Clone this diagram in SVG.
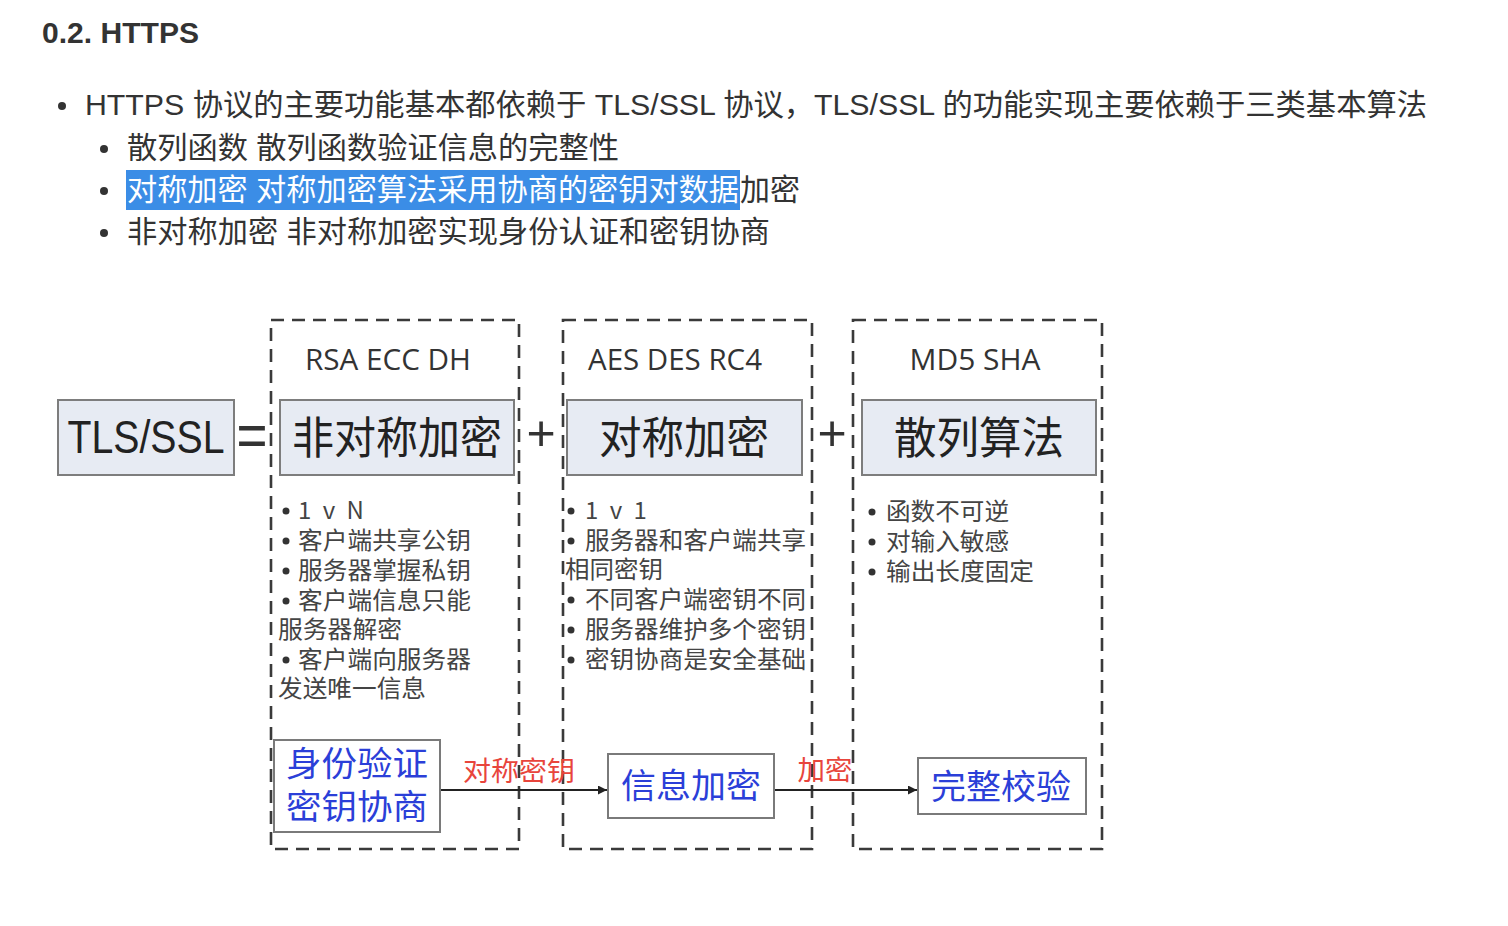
<svg xmlns="http://www.w3.org/2000/svg" width="1508" height="926" viewBox="0 0 1508 926">
<defs>
<style>
.cn{font-family:"Liberation Sans","Noto Sans CJK SC",sans-serif;}
.doc{font-size:30px;fill:#333;}
.dash{fill:none;stroke:#3a3a3a;stroke-width:2.6;stroke-dasharray:13 8;}
.algo{fill:#e7ebf3;stroke:#7d7d7d;stroke-width:2;}
.big{font-family:"Noto Sans CJK SC",sans-serif;font-size:44px;fill:#222;}
.hdr{font-family:"Open Sans","Noto Sans CJK SC",sans-serif;font-size:30px;fill:#333;}
.li{font-family:"Noto Sans CJK SC",sans-serif;font-size:24px;fill:#444;}
.wbox{fill:#fff;stroke:#7a7a7a;stroke-width:2;}
.blue{font-family:"Noto Sans CJK SC",sans-serif;font-size:34px;fill:#2b3fd8;}
.red{font-family:"Noto Sans CJK SC",sans-serif;font-size:27px;fill:#e8453c;}
.conn{stroke:#222;stroke-width:2.2;fill:none;}
.op{font-family:"Liberation Sans",sans-serif;fill:#333;}
</style>
<marker id="ah" viewBox="0 0 10 10" refX="10" refY="5" markerWidth="11" markerHeight="9" markerUnits="userSpaceOnUse" orient="auto">
<path d="M0,0 L10,5 L0,10 z" fill="#222"/>
</marker>
</defs>
<rect width="1508" height="926" fill="#fff"/>

<g id="doc-text">
<text class="cn" x="42" y="43" font-size="29" font-weight="bold" fill="#333" textLength="157" lengthAdjust="spacingAndGlyphs">0.2. HTTPS</text>
<circle cx="62" cy="106" r="4" fill="#333"/>
<text class="cn doc" x="85" y="115" textLength="1342" lengthAdjust="spacingAndGlyphs">HTTPS 协议的主要功能基本都依赖于 TLS/SSL 协议，TLS/SSL 的功能实现主要依赖于三类基本算法</text>
<circle cx="104" cy="149" r="4" fill="#333"/>
<text class="cn doc" x="127" y="158" textLength="492" lengthAdjust="spacingAndGlyphs">散列函数 散列函数验证信息的完整性</text>
<circle cx="104" cy="191" r="4" fill="#333"/>
<rect x="126" y="170" width="614" height="40" fill="#3b8de6"/>
<text class="cn doc" x="127" y="200" style="fill:#fff" textLength="612" lengthAdjust="spacingAndGlyphs">对称加密 对称加密算法采用协商的密钥对数据</text>
<text class="cn doc" x="740" y="200" textLength="60" lengthAdjust="spacingAndGlyphs">加密</text>
<circle cx="104" cy="233" r="4" fill="#333"/>
<text class="cn doc" x="127" y="242" textLength="643" lengthAdjust="spacingAndGlyphs">非对称加密 非对称加密实现身份认证和密钥协商</text>
</g>

<g id="group-asym">
<rect class="dash" x="271" y="320" width="248" height="529"/>
<text class="hdr" x="388" y="370" text-anchor="middle" textLength="166" lengthAdjust="spacingAndGlyphs">RSA ECC DH</text>
</g>
<g id="group-sym">
<rect class="dash" x="563" y="320" width="249" height="529"/>
<text class="hdr" x="675" y="370" text-anchor="middle" textLength="174" lengthAdjust="spacingAndGlyphs">AES DES RC4</text>
</g>
<g id="group-hash">
<rect class="dash" x="853" y="320" width="249" height="529"/>
<text class="hdr" x="975" y="370" text-anchor="middle" textLength="131" lengthAdjust="spacingAndGlyphs">MD5 SHA</text>
</g>

<g id="node-tls">
<rect class="algo" x="58" y="400" width="176" height="75"/>
<text class="cn" x="146" y="453" font-size="46" fill="#222" text-anchor="middle" textLength="157" lengthAdjust="spacingAndGlyphs">TLS/SSL</text>
</g>
<g id="op-eq"><text class="op" x="252" y="456" font-size="62" text-anchor="middle" textLength="31" lengthAdjust="spacingAndGlyphs">=</text></g>
<g id="node-asym">
<rect class="algo" x="280" y="400" width="234" height="75"/>
<text class="big" x="397" y="454" text-anchor="middle" textLength="210" lengthAdjust="spacingAndGlyphs">非对称加密</text>
</g>
<g id="op-plus1"><text class="op" x="541" y="450" font-size="50" text-anchor="middle">+</text></g>
<g id="node-sym">
<rect class="algo" x="567" y="400" width="235" height="75"/>
<text class="big" x="684" y="454" text-anchor="middle" textLength="170" lengthAdjust="spacingAndGlyphs">对称加密</text>
</g>
<g id="op-plus2"><text class="op" x="832" y="450" font-size="50" text-anchor="middle">+</text></g>
<g id="node-hash">
<rect class="algo" x="862" y="400" width="234" height="75"/>
<text class="big" x="979" y="454" text-anchor="middle" textLength="170" lengthAdjust="spacingAndGlyphs">散列算法</text>
</g>

<g id="list-asym">
<circle cx="286" cy="511" r="3.5" fill="#333"/>
<text class="li" x="298" y="519" letter-spacing="3">1 v N</text>
<circle cx="286" cy="541" r="3.5" fill="#333"/>
<text class="li" x="298" y="549" textLength="173" lengthAdjust="spacingAndGlyphs">客户端共享公钥</text>
<circle cx="286" cy="571" r="3.5" fill="#333"/>
<text class="li" x="298" y="579" textLength="173" lengthAdjust="spacingAndGlyphs">服务器掌握私钥</text>
<circle cx="286" cy="601" r="3.5" fill="#333"/>
<text class="li" x="298" y="609" textLength="173" lengthAdjust="spacingAndGlyphs">客户端信息只能</text>
<text class="li" x="278" y="638" textLength="124" lengthAdjust="spacingAndGlyphs">服务器解密</text>
<circle cx="286" cy="660" r="3.5" fill="#333"/>
<text class="li" x="298" y="668" textLength="173" lengthAdjust="spacingAndGlyphs">客户端向服务器</text>
<text class="li" x="278" y="697" textLength="148" lengthAdjust="spacingAndGlyphs">发送唯一信息</text>
</g>
<g id="list-sym">
<circle cx="571" cy="511" r="3.5" fill="#333"/>
<text class="li" x="585" y="519" letter-spacing="3">1 v 1</text>
<circle cx="571" cy="541" r="3.5" fill="#333"/>
<text class="li" x="585" y="549" textLength="221" lengthAdjust="spacingAndGlyphs">服务器和客户端共享</text>
<text class="li" x="565" y="578" textLength="98" lengthAdjust="spacingAndGlyphs">相同密钥</text>
<circle cx="571" cy="600" r="3.5" fill="#333"/>
<text class="li" x="585" y="608" textLength="221" lengthAdjust="spacingAndGlyphs">不同客户端密钥不同</text>
<circle cx="571" cy="630" r="3.5" fill="#333"/>
<text class="li" x="585" y="638" textLength="221" lengthAdjust="spacingAndGlyphs">服务器维护多个密钥</text>
<circle cx="571" cy="660" r="3.5" fill="#333"/>
<text class="li" x="585" y="668" textLength="221" lengthAdjust="spacingAndGlyphs">密钥协商是安全基础</text>
</g>
<g id="list-hash">
<circle cx="872" cy="512" r="3.5" fill="#333"/>
<text class="li" x="886" y="520" textLength="123" lengthAdjust="spacingAndGlyphs">函数不可逆</text>
<circle cx="872" cy="542" r="3.5" fill="#333"/>
<text class="li" x="886" y="550" textLength="123" lengthAdjust="spacingAndGlyphs">对输入敏感</text>
<circle cx="872" cy="572" r="3.5" fill="#333"/>
<text class="li" x="886" y="580" textLength="148" lengthAdjust="spacingAndGlyphs">输出长度固定</text>
</g>

<g id="connectors">
<line class="conn" x1="440" y1="790" x2="607" y2="790" marker-end="url(#ah)"/>
<text class="red" x="519" y="781" text-anchor="middle" textLength="112" lengthAdjust="spacingAndGlyphs">对称密钥</text>
<line class="conn" x1="775" y1="790" x2="917" y2="790" marker-end="url(#ah)"/>
<text class="red" x="825" y="780" text-anchor="middle" textLength="55" lengthAdjust="spacingAndGlyphs">加密</text>
</g>

<g id="node-auth">
<rect class="wbox" x="274" y="740" width="166" height="92"/>
<text class="blue" x="357" y="776" text-anchor="middle" textLength="142" lengthAdjust="spacingAndGlyphs">身份验证</text>
<text class="blue" x="357" y="819" text-anchor="middle" textLength="142" lengthAdjust="spacingAndGlyphs">密钥协商</text>
</g>
<g id="node-enc">
<rect class="wbox" x="608" y="754" width="166" height="64"/>
<text class="blue" x="691" y="798" text-anchor="middle" textLength="140" lengthAdjust="spacingAndGlyphs">信息加密</text>
</g>
<g id="node-verify">
<rect class="wbox" x="918" y="758" width="168" height="56"/>
<text class="blue" x="1001" y="799" text-anchor="middle" textLength="140" lengthAdjust="spacingAndGlyphs">完整校验</text>
</g>
</svg>
